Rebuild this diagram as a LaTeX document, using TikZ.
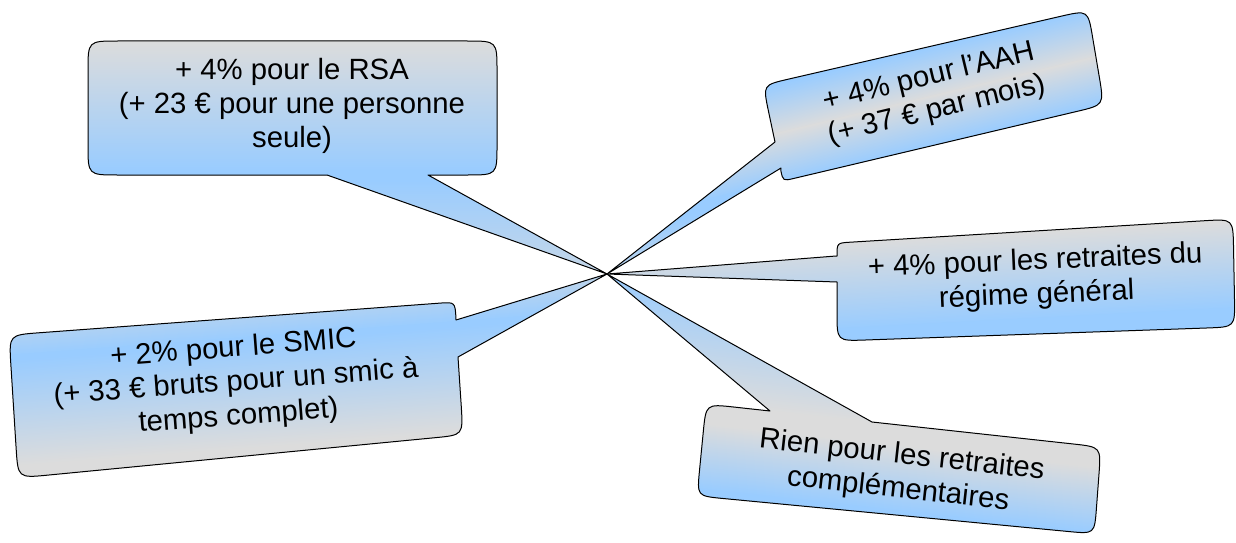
\documentclass[tikz,border=0pt]{standalone}
\usepackage{fontspec}
\setmainfont{Liberation Sans}
\usetikzlibrary{calc}
\definecolor{bgray}{RGB}{220,220,220}
\definecolor{bblue}{RGB}{153,204,255}
% rounded corner at #2, coming from #1, going to #3, radius #4
\newcommand\rcor[4]{-- ($(#2)!#4pt!(#1)$) .. controls (#2) .. ($(#2)!#4pt!(#3)$)}
% gradient band (local, unrotated coordinates)
\newcommand\gband[4]{\shade[top color=#3,bottom color=#4] (-400,#1) rectangle (1700,#2+1);}
\begin{document}
\begin{tikzpicture}[x=1pt,y=-1pt,
  bubble/.style={draw=black,line width=1pt,line join=round},
  txt/.style={align=center,font=\fontsize{29.3}{34}\selectfont,inner sep=0pt,text=black}]
\useasboundingbox (0,0) rectangle (1236,543);
\coordinate (tip) at (607,274);

% ---------- RSA ----------
\coordinate (r1) at (88,41);   \coordinate (r2) at (497,41);
\coordinate (r3) at (497,175); \coordinate (r4) at (88,175);
\coordinate (ra) at (428,175); \coordinate (rb) at (327,175);
\draw[bubble, path picture={
   \fill[bgray] (-400,-200) rectangle (1700,800);
   \gband{41}{170}{bgray}{bblue}
   \gband{170}{180}{bblue}{bblue}
   \gband{180}{320}{bblue}{bgray}
 }] ($(r1)!0.5!(r2)$) \rcor{r1}{r2}{r3}{30} \rcor{r2}{r3}{r4}{30}
   -- (ra) -- (tip) -- (rb) \rcor{r3}{r4}{r1}{30} \rcor{r4}{r1}{r2}{30} -- cycle;

% ---------- AAH ----------
\coordinate (a1) at (763,85);   \coordinate (a2) at (1088,10);
\coordinate (a3) at (1104,105); \coordinate (a4) at (783,181);
\coordinate (ab) at (781,168);  \coordinate (aa) at (775,142);
\draw[bubble, path picture={
   \fill[bblue] (-400,-200) rectangle (1700,800);
   \begin{scope}[transform canvas={rotate around={13.5:(934.5,95)}}]
     \gband{-200}{47}{bblue}{bblue}
     \gband{47}{95}{bblue}{bgray}
     \gband{95}{143}{bgray}{bblue}
     \gband{143}{155}{bblue}{bblue}
     \gband{155}{225}{bblue}{bgray}
   \end{scope}
 }] ($(a1)!0.5!(a2)$) \rcor{a1}{a2}{a3}{28} \rcor{a2}{a3}{a4}{28} \rcor{a3}{a4}{a1}{11}
   -- (ab) -- (tip) -- (aa) \rcor{a4}{a1}{a2}{26} -- cycle;

% ---------- regime general ----------
\coordinate (g1) at (837,243);  \coordinate (g2) at (1233,219);
\coordinate (g3) at (1235,327); \coordinate (g4) at (837,341);
\coordinate (gl) at (837,282);  \coordinate (gu) at (836,256);
\draw[bubble, path picture={
   \fill[bgray] (-400,-200) rectangle (1700,800);
   \begin{scope}[transform canvas={rotate around={3:(1035.5,283)}}]
     \gband{231}{318}{bgray}{bblue}
     \gband{318}{400}{bblue}{bblue}
   \end{scope}
 }] ($(g1)!0.5!(g2)$) \rcor{g1}{g2}{g3}{28} \rcor{g2}{g3}{g4}{28} \rcor{g3}{g4}{g1}{28}
   -- (gl) -- (tip) -- (gu) \rcor{g4}{g1}{g2}{13} -- cycle;

% ---------- SMIC ----------
\coordinate (s1) at (9,335);    \coordinate (s2) at (455,302);
\coordinate (s3) at (463,435);  \coordinate (s4) at (18,478);
\coordinate (su) at (456,320);  \coordinate (sl) at (458,357);
\draw[bubble, path picture={
   \fill[bgray] (-400,-200) rectangle (1700,800);
   \begin{scope}[transform canvas={rotate around={4.3:(236,388)}}]
     \gband{200}{303}{bblue!45!bgray}{bblue!45!bgray}
     \gband{303}{338}{bblue!45!bgray}{bblue}
     \gband{338}{343}{bblue}{bblue}
     \gband{343}{448}{bblue}{bgray}
   \end{scope}
 }] ($(s1)!0.5!(s2)$) \rcor{s1}{s2}{s3}{16} -- (su) -- (tip) -- (sl)
   \rcor{s2}{s3}{s4}{28} \rcor{s3}{s4}{s1}{30} \rcor{s4}{s1}{s2}{30} -- cycle;

% ---------- Rien ----------
\coordinate (n1) at (706,404);   \coordinate (n2) at (1101,447);
\coordinate (n3) at (1094.5,534); \coordinate (n4) at (697,496);
\coordinate (nl) at (770,411);   \coordinate (nr) at (872,422);
\draw[bubble, path picture={
   \fill[bblue] (-400,-200) rectangle (1700,800);
   \begin{scope}[transform canvas={rotate around={-6.3:(899.6,470)}}]
     \gband{305}{425}{bblue}{bgray}
     \gband{425}{445}{bgray}{bgray}
     \gband{445}{510}{bgray}{bblue}
   \end{scope}
 }] ($(n4)!0.5!(n1)$) \rcor{n4}{n1}{n2}{28} -- (nl) -- (tip) -- (nr)
   \rcor{n1}{n2}{n3}{28} \rcor{n2}{n3}{n4}{26} \rcor{n3}{n4}{n1}{26} -- cycle;

% ---------- texts ----------
\node[txt] (tRSA) at (292,106) {+ 4\% pour le RSA\\(+ 23 € pour une personne\\seule)};
\node[txt,rotate=13.5] (tAAH) at (933,94) {+ 4\% pour l’AAH\\(+ 37 € par mois)};
\node[txt,rotate=2.5] (tGEN) at (1036,279) {+ 4\% pour les retraites du\\régime général};
\node[txt,rotate=4.3] (tSMIC) at (236,383) {+ 2\% pour le SMIC\\(+ 33 € bruts pour un smic à\\temps complet)};
\node[txt,rotate=-6.3] (tRIEN) at (900,473) {Rien pour les retraites\\complémentaires};
\end{tikzpicture}
\end{document}
